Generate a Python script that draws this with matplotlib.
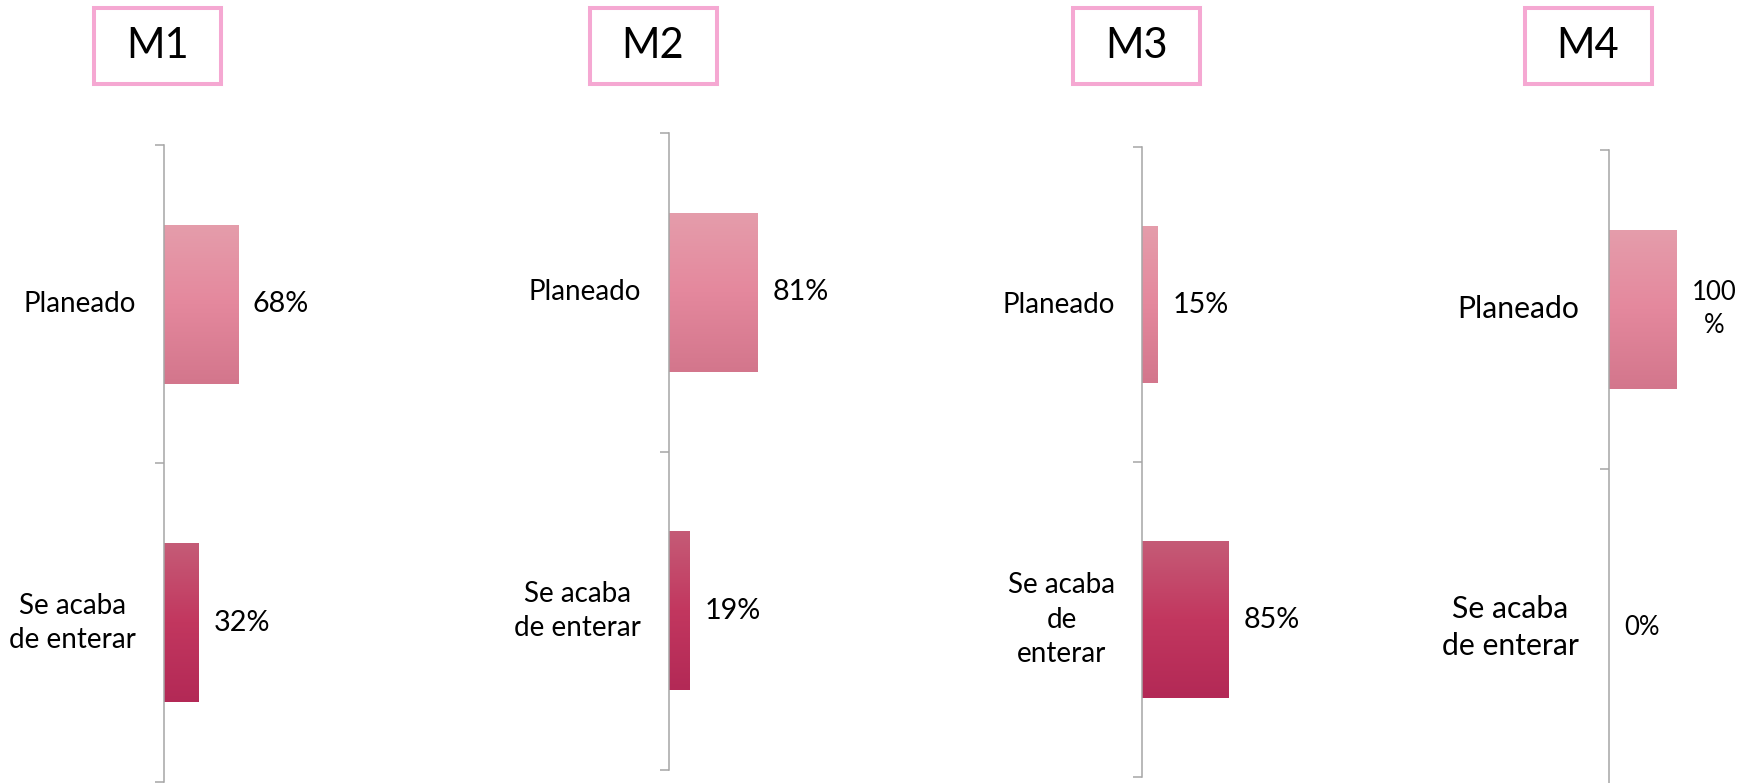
import numpy as np
import matplotlib
matplotlib.use("Agg")
import matplotlib.pyplot as plt
from matplotlib.colors import LinearSegmentedColormap
from matplotlib.patches import Rectangle

# ── Data ──────────────────────────────────────────────────────────────────────
panels     = ["M1", "M2", "M3", "M4"]
categories = ["Planeado", "Se acaba de enterar"]
values_m1  = [68, 32]
values_m2  = [81, 19]
values_m3  = [15, 85]
values_m4  = [100, 0]
values     = [values_m1, values_m2, values_m3, values_m4]
# how each panel wraps its category text
cat_text = [["Planeado", "Se acaba\nde enterar"],
            ["Planeado", "Se acaba\nde enterar"],
            ["Planeado", "Se acaba\nde\nenterar"],
            ["Planeado", "Se acaba\nde enterar"]]

# ── Layout (pixels of the 1755x783 canvas) ────────────────────────────────────
W, H, DPI = 1755, 783, 100
# spine x, axis top, axis bottom, px per 100 %, box centre x
LAYOUT = [(163.5, 145, 782, 109, 157.5),
          (669.0, 133, 770, 109, 653.0),
          (1142., 147, 777, 102, 1136.5),
          (1609., 150, 787,  68, 1588.0)]
FS_CAT = [20, 20, 20, 21.7]
FS_VAL = [20.7, 20.7, 20.7, 18.5]
GAP    = [28, 28, 27, 30]
LSP    = 1.4

plt.rcParams["font.family"] = ["Lato", "DejaVu Sans"]
AXIS_C = "#A6A6A6"
BOX_C  = "#F5A8D2"
cmaps = [LinearSegmentedColormap.from_list("top", ["#E59DAB", "#E4889D", "#D3768C"]),
         LinearSegmentedColormap.from_list("bot", ["#C55C77", "#C2375F", "#B32956"])]
grad = np.linspace(0, 1, 256).reshape(-1, 1)

fig = plt.figure(figsize=(W/DPI, H/DPI), dpi=DPI)
fig.patch.set_facecolor("white")

for p, name in enumerate(panels):
    sx, top, bot, px100, bcx = LAYOUT[p]
    ax = fig.add_axes([sx/W, 1-bot/H, px100/W, (bot-top)/H])
    ax.patch.set_alpha(0)
    ypos = np.arange(len(categories))
    bars = ax.barh(ypos, values[p], height=0.5, color="none", edgecolor="none")
    for i, b in enumerate(bars):
        x0, y0 = b.get_x(), b.get_y()
        w, h = b.get_width(), b.get_height()
        if w <= 0: continue
        im = ax.imshow(grad, cmap=cmaps[i], aspect="auto", origin="upper",
                       extent=(x0, x0+w, y0+h, y0), zorder=2)
        im.set_clip_path(b)
    ax.set_xlim(0, 100)
    ax.set_ylim(1.5, -0.5)

    for s in ["top", "right", "bottom"]:
        ax.spines[s].set_visible(False)
    ax.spines["left"].set_color(AXIS_C)
    ax.spines["left"].set_linewidth(1.1)
    ax.set_xticks([])
    ax.set_yticks([-0.5, 0.5, 1.5])
    ax.tick_params(axis="y", length=6.5, width=1.1, color=AXIS_C,
                   direction="out", labelleft=False)

    for i, v in enumerate(values[p]):
        ax.annotate(cat_text[p][i], xy=(0, i), xytext=(-GAP[p], 0),
                    textcoords="offset pixels", ha="right", va="center",
                    multialignment="center", fontsize=FS_CAT[p],
                    linespacing=LSP, annotation_clip=False)
        lab = f"{v}%"
        if p == 3 and v >= 100: lab = f"{v}\n%"
        ax.annotate(lab, xy=(v, i), xytext=(15, 0),
                    textcoords="offset pixels", ha="left", va="center",
                    multialignment="center", fontsize=FS_VAL[p],
                    linespacing=LSP, annotation_clip=False)

    # title box
    bw, by0, by1 = 127, 8, 84
    fig.patches.append(Rectangle(((bcx-bw/2)/W, 1-by1/H), bw/W, (by1-by0)/H,
                                 transform=fig.transFigure, fill=False,
                                 edgecolor=BOX_C, linewidth=2.9))
    fig.text(bcx/W, 1-(by0+by1)/2/H, name, ha="center", va="center",
             fontsize=30)

fig.savefig("out.png", dpi=DPI, facecolor="white")
